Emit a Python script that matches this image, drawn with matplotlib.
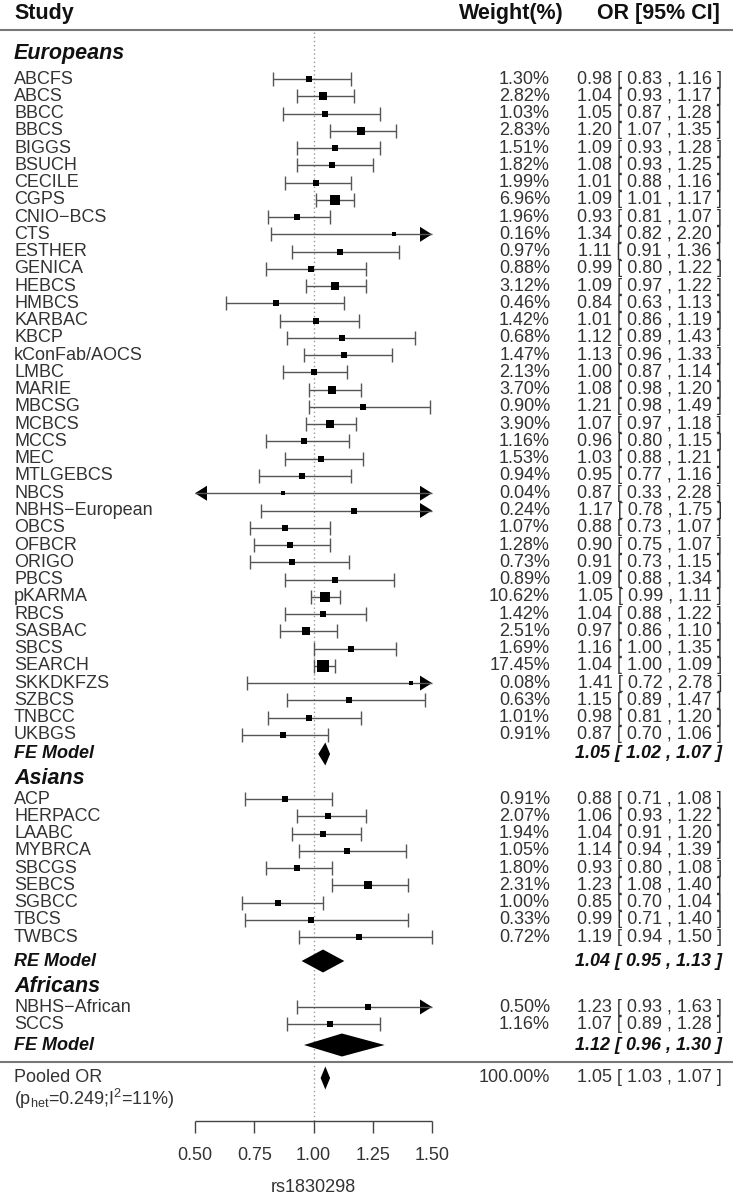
import matplotlib
matplotlib.use("Agg")
import matplotlib.pyplot as plt
from matplotlib.patches import Polygon

plt.rcParams["font.family"] = ["Liberation Sans", "DejaVu Sans"]
plt.rcParams["mathtext.default"] = "regular"

# ---- data ----
eur_names = ["ABCFS", "ABCS", "BBCC", "BBCS", "BIGGS", "BSUCH", "CECILE", "CGPS",
             "CNIO\u2212BCS", "CTS", "ESTHER", "GENICA", "HEBCS", "HMBCS", "KARBAC",
             "KBCP", "kConFab/AOCS", "LMBC", "MARIE", "MBCSG", "MCBCS", "MCCS", "MEC",
             "MTLGEBCS", "NBCS", "NBHS\u2212European", "OBCS", "OFBCR", "ORIGO", "PBCS",
             "pKARMA", "RBCS", "SASBAC", "SBCS", "SEARCH", "SKKDKFZS", "SZBCS",
             "TNBCC", "UKBGS"]
eur_weight = [1.30, 2.82, 1.03, 2.83, 1.51, 1.82, 1.99, 6.96, 1.96, 0.16, 0.97, 0.88,
              3.12, 0.46, 1.42, 0.68, 1.47, 2.13, 3.70, 0.90, 3.90, 1.16, 1.53, 0.94,
              0.04, 0.24, 1.07, 1.28, 0.73, 0.89, 10.62, 1.42, 2.51, 1.69, 17.45, 0.08,
              0.63, 1.01, 0.91]
eur_or = [0.98, 1.04, 1.05, 1.20, 1.09, 1.08, 1.01, 1.09, 0.93, 1.34, 1.11, 0.99,
          1.09, 0.84, 1.01, 1.12, 1.13, 1.00, 1.08, 1.21, 1.07, 0.96, 1.03, 0.95,
          0.87, 1.17, 0.88, 0.90, 0.91, 1.09, 1.05, 1.04, 0.97, 1.16, 1.04, 1.41,
          1.15, 0.98, 0.87]
eur_lo = [0.83, 0.93, 0.87, 1.07, 0.93, 0.93, 0.88, 1.01, 0.81, 0.82, 0.91, 0.80,
          0.97, 0.63, 0.86, 0.89, 0.96, 0.87, 0.98, 0.98, 0.97, 0.80, 0.88, 0.77,
          0.33, 0.78, 0.73, 0.75, 0.73, 0.88, 0.99, 0.88, 0.86, 1.00, 1.00, 0.72,
          0.89, 0.81, 0.70]
eur_hi = [1.16, 1.17, 1.28, 1.35, 1.28, 1.25, 1.16, 1.17, 1.07, 2.20, 1.36, 1.22,
          1.22, 1.13, 1.19, 1.43, 1.33, 1.14, 1.20, 1.49, 1.18, 1.15, 1.21, 1.16,
          2.28, 1.75, 1.07, 1.07, 1.15, 1.34, 1.11, 1.22, 1.10, 1.35, 1.09, 2.78,
          1.47, 1.20, 1.06]
eur_model = ("FE Model", 1.05, 1.02, 1.07)

asi_names = ["ACP", "HERPACC", "LAABC", "MYBRCA", "SBCGS", "SEBCS", "SGBCC", "TBCS", "TWBCS"]
asi_weight = [0.91, 2.07, 1.94, 1.05, 1.80, 2.31, 1.00, 0.33, 0.72]
asi_or = [0.88, 1.06, 1.04, 1.14, 0.93, 1.23, 0.85, 0.99, 1.19]
asi_lo = [0.71, 0.93, 0.91, 0.94, 0.80, 1.08, 0.70, 0.71, 0.94]
asi_hi = [1.08, 1.22, 1.20, 1.39, 1.08, 1.40, 1.04, 1.40, 1.50]
asi_model = ("RE Model", 1.04, 0.95, 1.13)

afr_names = ["NBHS\u2212African", "SCCS"]
afr_weight = [0.50, 1.16]
afr_or = [1.23, 1.07]
afr_lo = [0.93, 0.89]
afr_hi = [1.63, 1.28]
afr_model = ("FE Model", 1.12, 0.96, 1.30)

pooled = ("Pooled OR", 100.00, 1.05, 1.03, 1.07)
het_text = r"(p$_{het}$=0.249;I$^{2}$=11%)"

ticks = [0.50, 0.75, 1.00, 1.25, 1.50]
xlab = "rs1830298"

# ---- layout ----
W, H = 733, 1199
fig = plt.figure(figsize=(W / 100, H / 100), dpi=100)
ax = fig.add_axes([0, 0, 1, 1])
xmin, xmax = 0.5, 1.5
x0px, x1px = 195, 432
ppu = (x1px - x0px) / (xmax - xmin)
ax.set_xlim(xmin - x0px / ppu, xmax + (W - x1px) / ppu)
ax.set_ylim(H, 0)
ax.axis("off")

tr = ax.get_yaxis_transform()  # x in axes fraction, y in pixel rows
txt_col = "#333333"
ci_col = "#555555"
fs = 13
fs_head = 15.5
left_x = 14 / W
w_x = 550 / W
or_x = 722 / W


def fmt(o, l, h):
    return "%.2f [ %.2f , %.2f ]" % (o, l, h)


def study_rows(names, wts, ors, los, his, ys):
    alen = 12 / ppu
    for n, w, o, l, h, y in zip(names, wts, ors, los, his, ys):
        ax.text(left_x, y, n, transform=tr, ha="left", va="center", fontsize=fs, color=txt_col)
        ax.text(w_x, y, "%.2f%%" % w, transform=tr, ha="right", va="center", fontsize=fs, color=txt_col)
        ax.text(or_x, y, fmt(o, l, h), transform=tr, ha="right", va="center", fontsize=fs, color=txt_col)
        ax.hlines(y, max(l, xmin), min(h, xmax), color=ci_col, lw=1)
        if l < xmin:
            ax.add_patch(Polygon([(xmin, y), (xmin + alen, y - 7.5), (xmin + alen, y + 7.5)],
                                 closed=True, color="black", lw=0))
        else:
            ax.vlines(l, y - 7, y + 7, color=ci_col, lw=1)
        if h > xmax:
            ax.add_patch(Polygon([(xmax, y), (xmax - alen, y - 7.5), (xmax - alen, y + 7.5)],
                                 closed=True, color="black", lw=0))
        else:
            ax.vlines(h, y - 7, y + 7, color=ci_col, lw=1)
        spx = 4.2 + 1.9 * w ** 0.5
        ax.scatter([o], [y], marker="s", s=(spx * 0.72) ** 2, color="black", lw=0, zorder=3)


def diamond(est, lo, hi, y, hh=11.5):
    ax.add_patch(Polygon([(lo, y), (est, y - hh), (hi, y), (est, y + hh)],
                         closed=True, color="black", lw=0, zorder=3))


def model_row(model, y):
    label, est, lo, hi = model
    ax.text(left_x, y, label, transform=tr, ha="left", va="center", fontsize=fs,
            fontweight="bold", fontstyle="italic", color="#111111")
    ax.text(or_x, y, fmt(est, lo, hi), transform=tr, ha="right", va="center", fontsize=fs,
            fontweight="bold", fontstyle="italic", color="#111111")
    diamond(est, lo, hi, y)


def heading(label, y):
    ax.text(left_x, y, label, transform=tr, ha="left", va="center", fontsize=fs_head,
            fontweight="bold", fontstyle="italic", color="#111111")


# header
ax.text(left_x, 13, "Study", transform=tr, ha="left", va="center", fontsize=fs_head,
        fontweight="bold", color="#111111")
ax.text(564 / W, 13, "Weight(%)", transform=tr, ha="right", va="center", fontsize=fs_head,
        fontweight="bold", color="#111111")
ax.text(720 / W, 13, "OR [95% CI]", transform=tr, ha="right", va="center", fontsize=fs_head,
        fontweight="bold", color="#111111")
ax.axhline(30, color="#777777", lw=1.5)

step = 17.26
heading("Europeans", 53)
study_rows(eur_names, eur_weight, eur_or, eur_lo, eur_hi,
           [79 + i * step for i in range(len(eur_names))])
model_row(eur_model, 754)

heading("Asians", 779)
study_rows(asi_names, asi_weight, asi_or, asi_lo, asi_hi,
           [799 + i * step for i in range(len(asi_names))])
model_row(asi_model, 961)

heading("Africans", 986)
study_rows(afr_names, afr_weight, afr_or, afr_lo, afr_hi,
           [1007 + i * step for i in range(len(afr_names))])
model_row(afr_model, 1045)

ax.axhline(1062, color="#777777", lw=1.5)

# pooled
plabel, pw, pest, plo, phi = pooled
ax.text(left_x, 1078, plabel, transform=tr, ha="left", va="center", fontsize=fs, color=txt_col)
ax.text(left_x, 1099, het_text, transform=tr, ha="left", va="center", fontsize=fs, color=txt_col)
ax.text(w_x, 1078, "%.2f%%" % pw, transform=tr, ha="right", va="center", fontsize=fs, color=txt_col)
ax.text(or_x, 1078, fmt(pest, plo, phi), transform=tr, ha="right", va="center", fontsize=fs, color=txt_col)
diamond(pest, plo, phi, 1078)

# reference line
ax.vlines(1.0, 32, 1121, color="#999999", lw=1, linestyles=(0, (1, 2)), zorder=1)

# x axis
ax.hlines(1121, ticks[0], ticks[-1], color="#444444", lw=1)
ax.vlines(ticks, 1121, 1133, color="#444444", lw=1)
for t in ticks:
    ax.text(t, 1156, "%.2f" % t, ha="center", va="center", fontsize=fs, color=txt_col)
ax.text(1.0, 1188, xlab, ha="center", va="center", fontsize=fs, color=txt_col)

fig.savefig("out.png", dpi=100)
